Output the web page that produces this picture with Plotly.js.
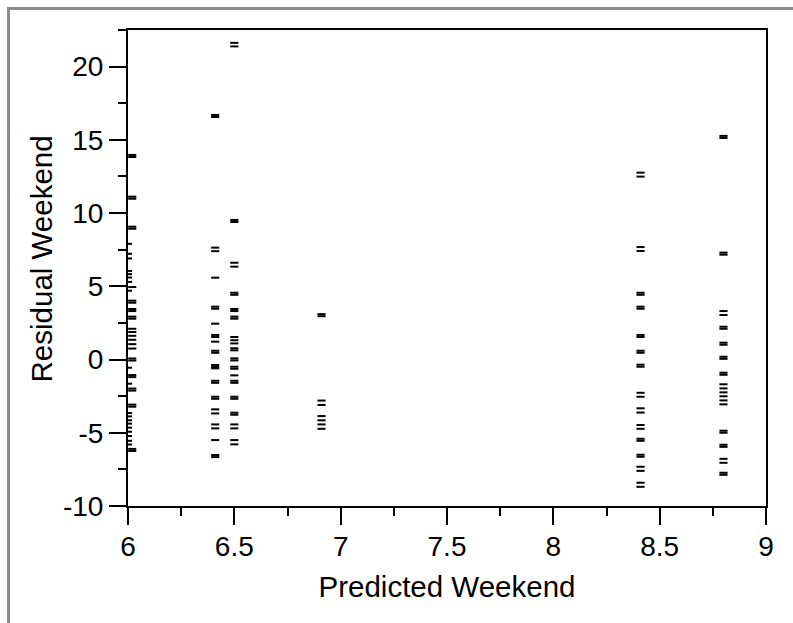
<!DOCTYPE html>
<html>
<head>
<meta charset="utf-8">
<script src="https://cdn.plot.ly/plotly-3.0.1.min.js"></script>
<style>
  html, body { margin: 0; padding: 0; background: #ffffff; }
  #wrap { position: relative; width: 793px; height: 623px; overflow: hidden; }
  #chart { position: absolute; left: 0; top: 0; width: 793px; height: 623px; }
  #frame { position: absolute; left: 7px; top: 7px; width: 800px; height: 700px;
           border-left: 3px solid #8c8c8c; border-top: 3px solid #8c8c8c; pointer-events: none; }
</style>
</head>
<body>
<div id="wrap">
  <div id="chart"></div>
  <div id="frame"></div>
</div>
<script>
// Predicted Weekend levels and the residuals observed at each level
const predictedLevels = [6.0, 6.02, 6.41, 6.5, 6.91, 8.41, 8.8];

const residualAt600 = [7.9, 7.22, 6.9, 6.05, 5.83, 5.6, 5.3, 4.7, -0.56, -1.65,
  -3.65, -3.88, -4.15, -4.38, -4.65, -4.93, -5.22, -5.55, -5.8];
const residualAt602 = [13.97, 13.83, 11.12, 10.98, 9.07, 8.93, 4.95, 4.02, 3.88,
  3.45, 3.31, 2.93, 2.79, 2.1, 1.88, 1.62, 1.35, 1.05, 0.75, 0.07, -0.07,
  -1.06, -1.2, -1.98, -2.12, -3.08, -3.22, -6.1, -6.24];
const residualAt641 = [16.7, 16.56, 7.64, 7.4, 5.59, 3.61, 3.47, 2.45, 1.68, 1.54,
  1.22, 0.6, 0.46, -0.37, -0.51, -0.6, -1.45, -1.59, -2.54, -2.68, -3.4, -3.68,
  -4.43, -4.7, -5.5, -6.52, -6.66];
const residualAt650 = [21.62, 21.38, 9.53, 9.39, 6.61, 6.34, 4.56, 4.42, 3.45, 3.31,
  2.93, 2.79, 1.54, 1.32, 1.1, 0.77, 0.63, 0.08, -0.06, -0.49, -0.63, -1.08,
  -1.45, -1.59, -2.54, -2.68, -3.63, -3.77, -4.43, -4.7, -5.5, -5.79];
const residualAt691 = [3.1, 2.96, -2.8, -3.1, -3.86, -4.15, -4.43, -4.73];
const residualAt841 = [12.76, 12.49, 7.68, 7.41, 4.56, 4.42, 3.61, 3.47, 1.68, 1.54,
  0.6, 0.46, -0.35, -0.49, -2.27, -2.54, -3.33, -3.62, -4.47, -4.73, -5.41, -5.55,
  -6.5, -6.64, -7.32, -7.6, -8.41, -8.69];
const residualAt880 = [15.27, 15.13, 7.3, 7.16, 3.31, 3.04, 2.24, 2.1, 1.15, 1.01,
  0.19, 0.05, -0.9, -1.04, -1.69, -1.97, -2.24, -2.51, -2.79, -3.06, -4.86, -5.0,
  -5.82, -5.96, -6.78, -7.05, -7.73, -7.87];

const residualGroups = [residualAt600, residualAt602, residualAt641, residualAt650,
  residualAt691, residualAt841, residualAt880];

const xTickVals = [6, 6.5, 7, 7.5, 8, 8.5, 9];
const xTickText = ['6', '6.5', '7', '7.5', '8', '8.5', '9'];
const yTickVals = [-10, -5, 0, 5, 10, 15, 20];
const yTickText = ['-10', '-5', '0', '5', '10', '15', '20'];
const xMinorVals = [6.25, 6.75, 7.25, 7.75, 8.25, 8.75];
const yMinorVals = [-7.5, -2.5, 2.5, 7.5, 12.5, 17.5, 22.5];

const xTitle = 'Predicted Weekend';
const yTitle = 'Residual Weekend';

const xs = [], ys = [];
residualGroups.forEach((grp, i) => {
  grp.forEach(v => { xs.push(predictedLevels[i]); ys.push(v); });
});

const fontFam = 'Liberation Sans, Arial, Helvetica, sans-serif';

const trace = {
  type: 'scatter',
  mode: 'markers',
  x: xs,
  y: ys,
  cliponaxis: true,
  marker: {
    symbol: 'line-ew',
    size: 5.8,
    color: '#000000',
    line: { width: 2, color: '#000000' }
  },
  hoverinfo: 'x+y'
};

const axisCommon = {
  showgrid: false,
  zeroline: false,
  showline: true,
  linecolor: '#000000',
  linewidth: 2,
  mirror: true,
  ticks: 'outside',
  ticklen: 17,
  tickwidth: 2,
  tickcolor: '#000000',
  tickmode: 'array',
  tickfont: { family: fontFam, size: 28, color: '#000000' }
};

const layout = {
  width: 793,
  height: 623,
  margin: { l: 128, r: 27, t: 30, b: 117 },
  paper_bgcolor: '#ffffff',
  plot_bgcolor: '#ffffff',
  showlegend: false,
  xaxis: Object.assign({}, axisCommon, {
    range: [6, 9],
    tickvals: xTickVals,
    ticktext: xTickText,
    ticklabelstandoff: -3,
    minor: { tickmode: 'array', tickvals: xMinorVals, ticks: 'outside', ticklen: 8, tickwidth: 2, tickcolor: '#000000', showgrid: false },
    title: { text: xTitle, font: { family: fontFam, size: 29.5, color: '#000000' }, standoff: 16 }
  }),
  yaxis: Object.assign({}, axisCommon, {
    range: [-10, 22.5],
    tickvals: yTickVals,
    ticktext: yTickText,
    minor: { tickmode: 'array', tickvals: yMinorVals, ticks: 'outside', ticklen: 8, tickwidth: 2, tickcolor: '#000000', showgrid: false },
    title: { text: '' }
  }),
  annotations: [{
    text: yTitle,
    xref: 'paper', yref: 'paper',
    x: 0, y: 0.518,
    xshift: -87,
    xanchor: 'center', yanchor: 'middle',
    textangle: -90,
    showarrow: false,
    font: { family: fontFam, size: 29.5, color: '#000000' }
  }]
};

Plotly.newPlot('chart', [trace], layout, { displayModeBar: false, staticPlot: true });
</script>
</body>
</html>
